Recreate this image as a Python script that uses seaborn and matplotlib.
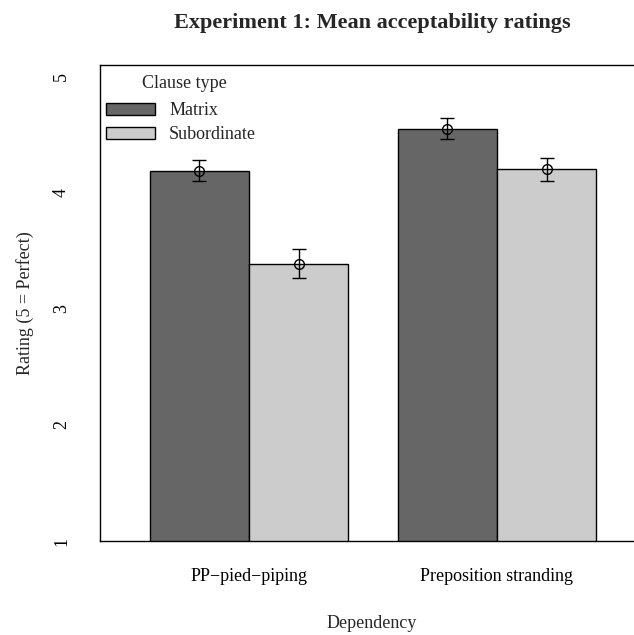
import matplotlib
matplotlib.use("Agg")
import matplotlib.pyplot as plt
from matplotlib.patches import Patch
import pandas as pd
import seaborn as sns

# ── Data ─────────────────────────────────────────────────────────────────────
dependencies = ["PP\u2212pied\u2212piping", "Preposition stranding"]
clause_types = ["Matrix", "Subordinate"]
matrix_means = [4.19, 4.55]
subord_means = [3.39, 4.20]
matrix_se = [0.09, 0.09]
subord_se = [0.125, 0.10]

COLORS = {"Matrix": "#666666", "Subordinate": "#cccccc"}

df = pd.DataFrame({
    "Dependency": dependencies * 2,
    "Clause": ["Matrix"] * 2 + ["Subordinate"] * 2,
    "Rating": matrix_means + subord_means,
    "SE": matrix_se + subord_se,
})

# ── Styling ──────────────────────────────────────────────────────────────────
sns.set_theme(style="white")
plt.rcParams["font.family"] = ["Liberation Serif", "DejaVu Serif"]
plt.rcParams["font.size"] = 13

fig = plt.figure(figsize=(6.34, 6.35), dpi=100)
W, H = 634, 635
ax = fig.add_axes([100 / W, (H - 541) / H, 544 / W, (541 - 65) / H])

sns.barplot(data=df, x="Dependency", y="Rating", hue="Clause",
            order=dependencies, hue_order=clause_types, palette=COLORS,
            errorbar=None, edgecolor="black", linewidth=1.0, width=0.8,
            saturation=1, legend=False, ax=ax)

# error bars + open circles at the bar tops
for bar, (_, row) in zip(ax.patches, df.iterrows()):
    xc = bar.get_x() + bar.get_width() / 2
    ax.errorbar(xc, bar.get_height(), yerr=row["SE"], fmt="o", mfc="none",
                mec="black", ms=7, mew=1.0, ecolor="black", elinewidth=1.0,
                capsize=5, capthick=1.0)

ax.set_xlim(-0.601, 1.593)
ax.set_ylim(1, 5.1)
ax.set_yticks([1, 2, 3, 4, 5])
ax.set_yticklabels(["1", "2", "3", "4", "5"], rotation=90, va="center")

for sp in ax.spines.values():
    sp.set_color("black")
    sp.set_linewidth(1.0)

ax.tick_params(axis="both", direction="out", length=8.6, width=1.0,
               color="black", labelsize=13, labelcolor="black")
ax.tick_params(axis="x", pad=11)
ax.tick_params(axis="y", pad=13)

ax.set_xlabel("Dependency", fontsize=13)
ax.xaxis.set_label_coords(0.5, (541 - 623) / 476)
ax.xaxis.label.set_va("center")
ax.set_ylabel("Rating (5 = Perfect)", fontsize=13)
ax.yaxis.set_label_coords((25 - 100) / 544, 0.5)
ax.yaxis.label.set_va("center")

fig.text(372 / W, 1 - 28 / H, "Experiment 1: Mean acceptability ratings",
         ha="center", va="baseline", fontsize=16, fontweight="bold")

# legend (title drawn separately to get the wider gap of the original)
handles = [Patch(facecolor=COLORS[c], edgecolor="black", linewidth=1.0)
           for c in clause_types]
ax.legend(handles, clause_types, loc="upper left",
          bbox_to_anchor=(6 / 544, (541 - 102) / 476), frameon=False,
          fontsize=13, handlelength=2.7, handleheight=0.65,
          handletextpad=0.8, labelspacing=0.4, borderaxespad=0, borderpad=0)
fig.text(184 / W, 1 - 84 / H, "Clause type", ha="center", va="center",
         fontsize=13)

fig.savefig("out.png", dpi=100)
